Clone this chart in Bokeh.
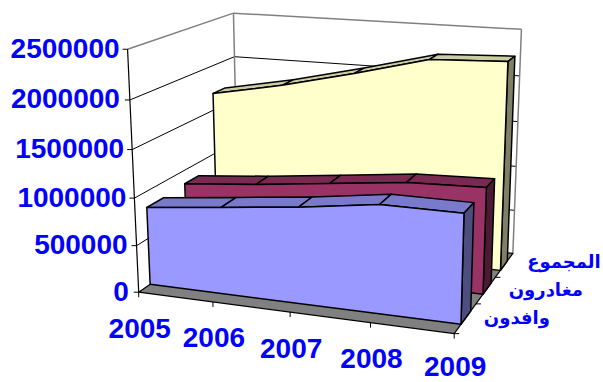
import numpy as np
from bokeh.plotting import figure
from bokeh.embed import file_html
from bokeh.resources import INLINE
from bokeh.core.properties import value
from bokeh.models import Range1d

years = ["2005", "2006", "2007", "2008", "2009"]
series_names = ["وافدون", "مغادرون", "المجموع"]
arrivals = [832000, 917000, 1004000, 1115000, 1112000]
departures = [851000, 922000, 1011000, 1101000, 1128000]
totals = [1689000, 1839000, 2026000, 2229000, 2259000]
value_ticks = [0, 500000, 1000000, 1500000, 2000000, 2500000]

VMAX = 2500000
# 3D projection calibrated on the picture's box corners
calib = [((0,0,0),(138,291)),((1,0,0),(454,334)),((1,1,0),(512,252)),((0,1,0),(238,224)),
         ((0,0,1),(127,50)),((0,1,1),(233,12)),((1,1,1),(521,29)),
         ((0,0,.2),(136,245)),((0,0,.4),(134,197)),((0,0,.6),(132,149)),((0,0,.8),(129,99))]
A = []
for (u,v,w),(x,y) in calib:
    A.append([u,v,w,1,0,0,0,0,-x*u,-x*v,-x*w,-x])
    A.append([0,0,0,0,u,v,w,1,-y*u,-y*v,-y*w,-y])
P = np.linalg.svd(np.array(A))[2][-1].reshape(3,4)
def proj(u,v,w):
    r = P @ np.array([u,v,w,1.0])
    return float(r[0]/r[2]), float(r[1]/r[2])
def poly(*pts):
    q = [proj(*t) for t in pts]
    return [a for a,_ in q], [b for _,b in q]

p = figure(width=603, height=382, output_backend="svg", toolbar_location=None,
           x_range=Range1d(0,603), y_range=Range1d(382,0), min_border=0)
p.axis.visible = False
p.grid.visible = False
p.outline_line_color = None

def face(pts, fill, lc="black", lw=1.5):
    xs, ys = poly(*pts)
    p.patch(xs, ys, fill_color=fill, line_color=lc, line_width=lw, line_join="round")
def seg(a, b, color="black", lw=1.0):
    xs, ys = poly(a, b)
    p.line(xs, ys, line_color=color, line_width=lw)

# walls
for t in value_ticks[1:-1]:
    w = t/VMAX
    seg((0,0,w),(0,1,w)); seg((0,1,w),(1,1,w))
GW = "#808080"
seg((0,0,1),(0,1,1),GW,1.5); seg((0,1,1),(1,1,1),GW,1.5)
seg((0,1,1),(0,1,0),GW,1.5); seg((1,1,1),(1,1,0),GW,1.5)
# floor
face([(0,0,0),(1,0,0),(1,1,0),(0,1,0)], "#808080", "black", 1.2)
# value axis + ticks
seg((0,0,0),(0,0,1),"black",1.2)
offs = [10,9,8,8,10,8]
for t,off in zip(value_ticks,offs):
    x,y = proj(0,0,t/VMAX)
    p.line([x-5,x],[y,y],line_color="black",line_width=1)
    p.text([x-off],[y-1],text=[f"{t}"],text_color="#0000FF",text_font=value("Liberation Sans"),
           text_font_style="bold",text_font_size="28px",text_align="right",text_baseline="middle")
# category ticks and labels
for i,(y_,dy) in enumerate(zip(years,[36,36,36,36,33])):
    x,y = proj(i/4,0,0)
    p.line([x,x],[y,y+5],line_color="black",line_width=1)
    p.text([x+1],[y+dy],text=[y_],text_color="#0000FF",text_font=value("Liberation Sans"),
           text_font_style="bold",text_font_size="28px",text_align="center",text_baseline="middle")
# series, back to front
bands = [(totals,.76,.89,"#FFFFCC","#CCCCA3","#808066"),
         (departures,.45,.59,"#993366","#7A2952","#4D1A33"),
         (arrivals,.10,.25,"#9999FF","#7A7ACC","#4D4D80")]
for vals,v0,v1,c,top,side in bands:
    n = len(vals)
    for i in range(n-1):
        a,b = vals[i]/VMAX, vals[i+1]/VMAX
        face([(i/4,v0,a),((i+1)/4,v0,b),((i+1)/4,v1,b),(i/4,v1,a)], top)
    face([(1,v0,0),(1,v1,0),(1,v1,vals[-1]/VMAX),(1,v0,vals[-1]/VMAX)], side)
    pts = [(i/4,v0,vals[i]/VMAX) for i in range(n)]+[(1,v0,0),(0,v0,0)]
    face(pts, c)
# depth ticks
for d in [1/3,2/3,1.0]:
    x,y = proj(1,1-d,0)
    p.line([x,x+5],[y,y],line_color="black",line_width=1)
# depth axis labels
for name,d,dx,dy in zip(series_names,[.16,.5,.88],[85,97,94],[-1,-1,0]):
    x,y = proj(1,d,0)
    p.text([x+dx],[y+dy],text=[name],text_color="#0000FF",text_font=value("DejaVu Sans"),
           text_font_style="bold",text_font_size="18px",text_align="right",text_baseline="middle")
open("out.html","w").write(file_html(p, INLINE))
